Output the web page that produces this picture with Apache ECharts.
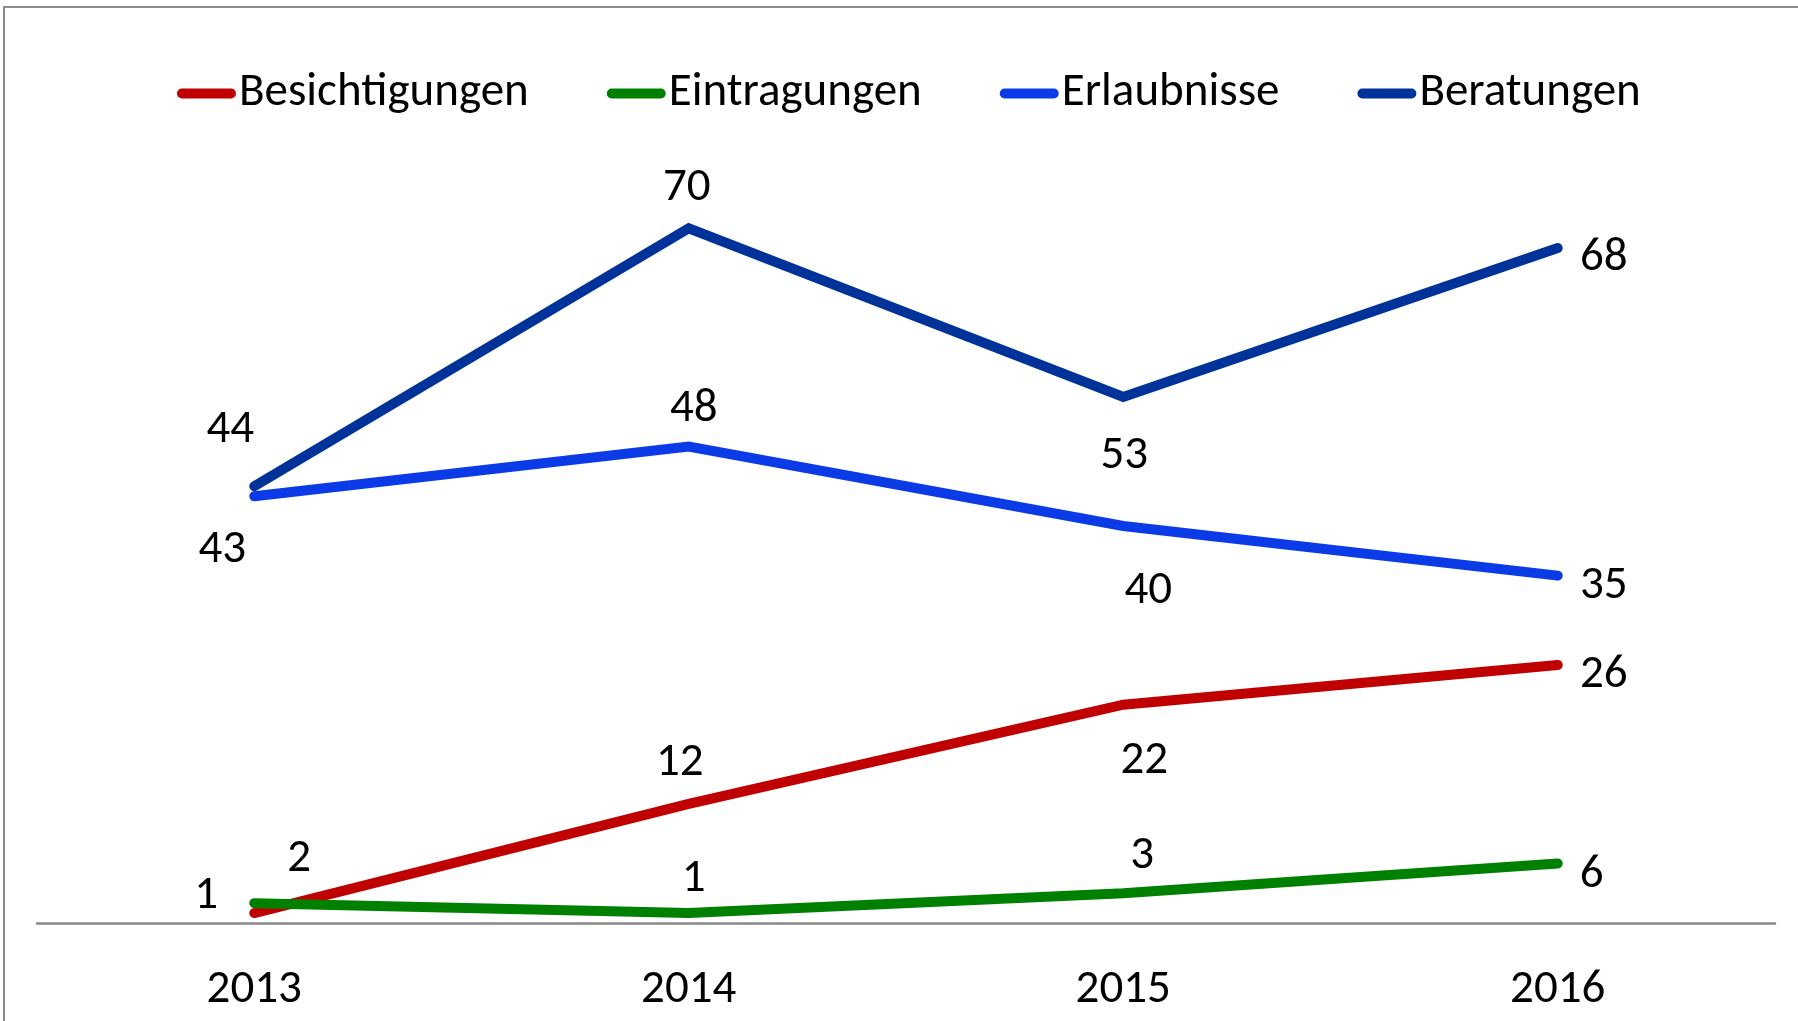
<!DOCTYPE html>
<html>
<head>
<meta charset="utf-8">
<script src="https://cdn.jsdelivr.net/npm/echarts@6/dist/echarts.min.js"></script>
<style>
  html, body { margin: 0; padding: 0; background: #fff; }
  #chart { width: 1798px; height: 1021px; }
</style>
</head>
<body>
<div id="chart"></div>
<script>
const years = ['2013', '2014', '2015', '2016'];

const besichtigungen = [1, 12, 22, 26];
const eintragungen = [2, 1, 3, 6];
const erlaubnisse = [43, 48, 40, 35];
const beratungen = [44, 70, 53, 68];

// label offsets (px) relative to each point, as placed in the original
const offsBesichtigungen = [[-48, -17], [-9, -41], [21, 57], [46, 10]];
const offsEintragungen = [[45, -44], [5, -34], [19, -37], [34, 12]];
const offsErlaubnisse = [[-32, 54], [5, -37], [25, 65], [46, 11]];
const offsBeratungen = [[-24, -56], [-2, -40], [1, 59], [46, 10]];

const FONT = "Carlito, 'Liberation Sans Narrow', 'Open Sans', sans-serif";
const FONT_SIZE = 47;

function withLabels(values, offsets) {
  return values.map((v, i) => ({
    value: v,
    label: { offset: offsets[i] }
  }));
}

function lineSeries(name, color, values, offsets) {
  return {
    name,
    type: 'line',
    data: withLabels(values, offsets),
    symbol: 'circle',
    symbolSize: 1,
    itemStyle: { color },
    lineStyle: { color, width: 10, cap: 'round', join: 'miter' },
    label: {
      show: true,
      position: 'inside',
      color: '#000',
      fontSize: FONT_SIZE,
      fontFamily: FONT
    },
    emphasis: { disabled: true },
    animation: false
  };
}

const legendIcon = 'path://M5,0 L55,0 A5,5 0 0 1 55,10 L5,10 A5,5 0 0 1 5,0 Z';

const chart = echarts.init(document.getElementById('chart'));
chart.setOption({
  animation: false,
  graphic: [
    {
      type: 'rect',
      shape: { x: 4, y: 7, width: 1900, height: 1100 },
      style: { fill: 'none', stroke: '#8c8c8c', lineWidth: 2 },
      silent: true
    }
  ],
  legend: {
    left: 172,
    top: 65,
    itemWidth: 59,
    itemHeight: 10,
    itemGap: 78,
    icon: legendIcon,
    textStyle: { fontSize: FONT_SIZE, fontFamily: FONT, color: '#000', padding: [0, 0, 0, -2] },
    data: ['Besichtigungen', 'Eintragungen', 'Erlaubnisse', 'Beratungen']
  },
  grid: { left: 37, right: 23, top: 129, bottom: 98 },
  xAxis: {
    type: 'category',
    data: years,
    boundaryGap: true,
    axisLine: { lineStyle: { color: '#898989', width: 2.5 } },
    axisTick: { show: false },
    axisLabel: { color: '#000', fontSize: FONT_SIZE, fontFamily: FONT, margin: 44 }
  },
  yAxis: {
    type: 'value',
    min: 0,
    max: 80,
    show: false,
    splitLine: { show: false }
  },
  series: [
    lineSeries('Besichtigungen', '#c00000', besichtigungen, offsBesichtigungen),
    lineSeries('Eintragungen', '#008000', eintragungen, offsEintragungen),
    lineSeries('Erlaubnisse', '#0a3be6', erlaubnisse, offsErlaubnisse),
    lineSeries('Beratungen', '#003399', beratungen, offsBeratungen)
  ]
});
</script>
</body>
</html>
